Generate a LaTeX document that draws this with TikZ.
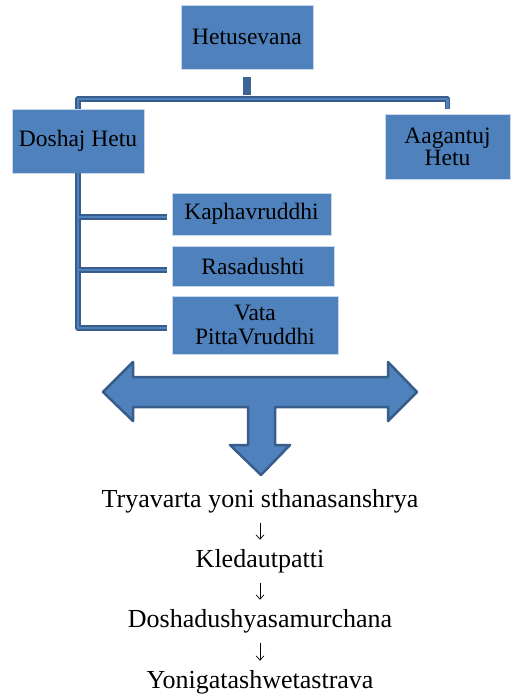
\documentclass[tikz,border=0pt]{standalone}
\usepackage{fontspec}
\setmainfont{Liberation Serif}
\newfontfamily\timesfont{Liberation Serif}
\usetikzlibrary{arrows.meta,calc}
\definecolor{boxblue}{HTML}{4F81BD}
\definecolor{edgeblue}{HTML}{385D8A}
\definecolor{stubblue}{HTML}{3D6595}
\definecolor{lightedge}{HTML}{C9D7EA}
\tikzset{
  boxnode/.style={fill=boxblue, draw=lightedge, line width=0.6pt, inner sep=0pt, align=center,
    font=\timesfont\fontsize{23.5}{22}\selectfont, text=black},
  conn/.style={draw=edgeblue, line width=5.5pt, line join=round},
  connin/.style={draw=boxblue, line width=2.8pt, line join=round},
  stubline/.style={draw=stubblue, line width=8pt},
  flowtext/.style={anchor=base, inner sep=0pt, font=\timesfont\fontsize{26}{26}\selectfont},
  flowarrow/.style={draw=black, line width=0.7pt, -{Straight Barb[length=4.5pt,width=8pt]}, shorten <=10pt, shorten >=9pt},
  bigarrow/.style={fill=boxblue, draw=edgeblue, line width=2.5pt, line join=round}
}
\begin{document}
\begin{tikzpicture}[x=1pt,y=-1pt]
\useasboundingbox (0,0) rectangle (512,695);

% boxes
\node[boxnode, minimum width=132pt, minimum height=64pt] (hetu) at (247,37) {Hetusevana};
\node[boxnode, minimum width=132pt, minimum height=64pt] (dosh) at (78,141) {Doshaj Hetu};
\node[boxnode, minimum width=125pt, minimum height=65pt] (aag) at (447.5,146.5) {Aagantuj\\Hetu};
\node[boxnode, minimum width=159pt, minimum height=42pt] (kapha) at (251.5,214) {Kaphavruddhi};
\node[boxnode, minimum width=162pt, minimum height=40pt] (rasa) at (253,266) {Rasadushti};
\node[boxnode, minimum width=166pt, minimum height=58pt, font=\timesfont\fontsize{23.5}{24}\selectfont] (vata) at (255,325) {Vata\\PittaVruddhi};

% bus connector
\coordinate (bus) at (247,99);
\coordinate (aagend) at ($(aag.north)+(0,-5)$);
\coordinate (vatabr) at ($(vata.west)+(0,3)$);
\coordinate (kaphabr) at ($(kapha.west)+(0,3)$);
\coordinate (rasabr) at ($(rasa.west)+(0,4)$);
\foreach \s in {conn,connin}{
  \draw[\s] (dosh.north) -- (dosh.north |- bus) -- (aagend |- bus) -- (aagend);
  \draw[\s] (dosh.south) -- (dosh.south |- vatabr) -- ([xshift=-5pt]vatabr);
  \draw[\s] (dosh.south |- kaphabr) -- ([xshift=-5pt]kaphabr);
  \draw[\s] (dosh.south |- rasabr) -- ([xshift=-5pt]rasabr);
}
\draw[stubline] ($(hetu.south)+(0,8)$) -- ($(hetu.south |- bus)+(0,-4)$);

% big T arrow
\draw[bigarrow] (103,392) -- (133,362) -- (133,377) -- (388,377) -- (388,362) -- (417,392)
  -- (388,421) -- (388,407) -- (275,407) -- (275,445) -- (290,445) -- (261,475)
  -- (230,445) -- (248,445) -- (248,407) -- (133,407) -- (133,421) -- cycle;

% flow text
\node[flowtext] (t1) at (260,507) {Tryavarta yoni sthanasanshrya};
\node[flowtext] (t2) at (260,567) {Kledautpatti};
\node[flowtext] (t3) at (260,627) {Doshadushyasamurchana};
\node[flowtext] (t4) at (260,688) {Yonigatashwetastrava};
\draw[flowarrow] (t1) -- (t2);
\draw[flowarrow] (t2) -- (t3);
\draw[flowarrow] (t3) -- (t4);
\end{tikzpicture}
\end{document}
